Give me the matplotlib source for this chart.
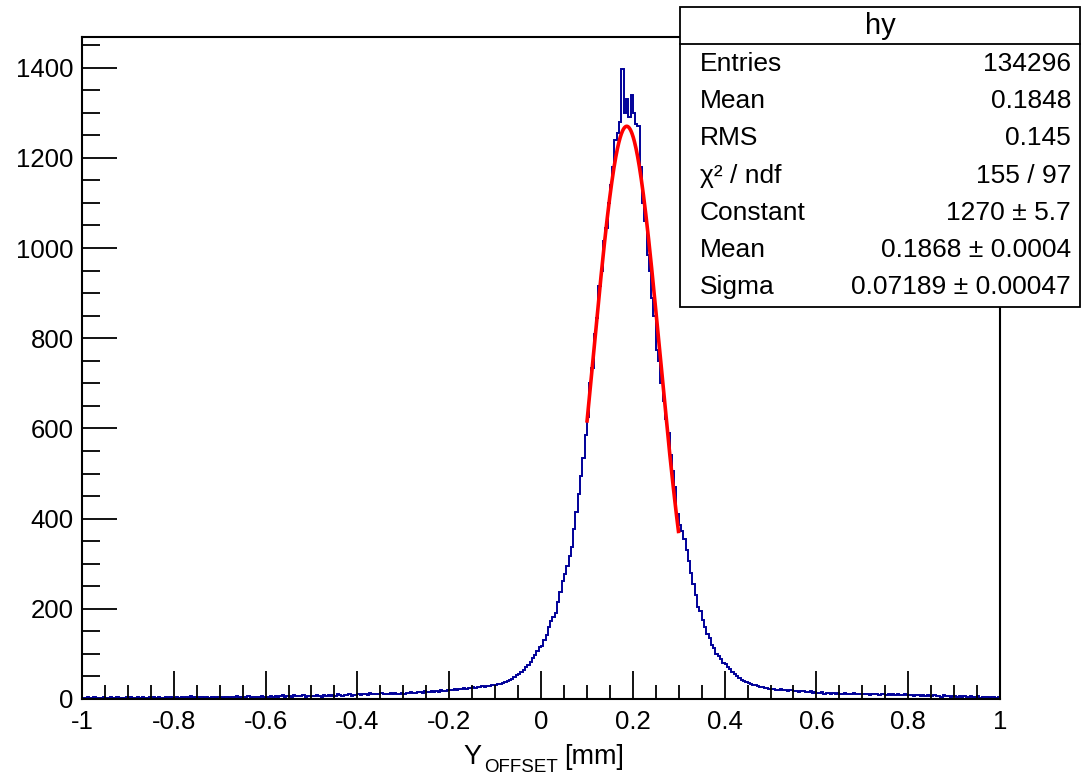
import numpy as np
import matplotlib
matplotlib.use("Agg")
import matplotlib.pyplot as plt

plt.rcParams['font.family'] = ['Liberation Sans', 'DejaVu Sans']

# ---- data (bin contents, bins of 0.005 from -1 to 1) ----
x_range = (-1.0, 1.0)
counts = [
    # -1.0 .. -0.9
    3, 2, 4, 3, 2, 5, 3, 2, 3, 4, 2, 3, 5, 3, 2, 4, 3, 3, 2, 4,
    # -0.9 .. -0.8
    3, 4, 2, 3, 5, 3, 4, 2, 3, 4, 3, 5, 2, 4, 3, 3, 4, 2, 5, 3,
    # -0.8 .. -0.7
    3, 4, 3, 5, 2, 4, 3, 6, 3, 4, 3, 4, 5, 3, 4, 2, 4, 5, 3, 4,
    # -0.7 .. -0.6
    4, 3, 5, 4, 3, 5, 4, 6, 3, 5, 4, 4, 6, 3, 5, 4, 5, 4, 6, 5,
    # -0.6 .. -0.5
    5, 4, 6, 5, 7, 5, 6, 8, 5, 6, 7, 5, 8, 6, 7, 6, 8, 5, 7, 6,
    # -0.5 .. -0.4
    7, 6, 8, 7, 5, 8, 7, 9, 6, 8, 7, 10, 8, 7, 9, 8, 10, 7, 9, 8,
    # -0.4 .. -0.3
    10, 9, 11, 12, 9, 13, 10, 11, 12, 10, 13, 11, 12, 10, 14, 11, 13, 12, 11, 13,
    # -0.3 .. -0.2
    12, 14, 13, 15, 14, 13, 16, 15, 14, 17, 15, 16, 18, 15, 17, 16, 19, 17, 18, 20,
    # -0.2 .. -0.1
    19, 20, 22, 21, 23, 22, 24, 23, 25, 24, 26, 25, 27, 26, 28, 27, 29, 28, 30, 31,
    # -0.1 .. 0.0
    31, 33, 34, 36, 38, 40, 43, 45, 49, 53, 56, 60, 64, 70, 76, 82, 90, 98, 106, 115,
    # 0.0 .. 0.1
    118, 130, 142, 160, 172, 182, 190, 215, 238, 262, 278, 295, 318, 337, 378, 415, 455, 495, 535, 585,
    # 0.1 .. 0.2
    625, 700, 735, 810, 845, 915, 950, 1015, 1045, 1100, 1140, 1180, 1240, 1255, 1280, 1398, 1300, 1330, 1290, 1340,
    # 0.2 .. 0.3
    1300, 1275, 1270, 1180, 1100, 1060, 985, 950, 890, 850, 775, 750, 700, 660, 620, 590, 540, 505, 470, 410,
    # 0.3 .. 0.4
    385, 372, 355, 330, 305, 280, 255, 230, 205, 195, 175, 160, 145, 135, 120, 112, 100, 95, 88, 80,
    # 0.4 .. 0.5
    78, 72, 66, 60, 56, 52, 47, 43, 40, 37, 35, 33, 31, 30, 28, 27, 26, 25, 24, 23,
    # 0.5 .. 0.6
    23, 22, 21, 20, 22, 19, 21, 18, 20, 19, 17, 18, 16, 18, 17, 16, 15, 17, 14, 16,
    # 0.6 .. 0.7
    14, 13, 15, 12, 13, 14, 11, 13, 12, 14, 11, 12, 13, 10, 12, 11, 13, 10, 11, 12,
    # 0.7 .. 0.8
    11, 10, 12, 9, 11, 10, 12, 9, 10, 11, 9, 10, 8, 10, 9, 11, 8, 9, 10, 8,
    # 0.8 .. 0.9
    8, 9, 7, 8, 9, 6, 8, 7, 9, 6, 7, 8, 6, 7, 5, 8, 6, 7, 5, 6,
    # 0.9 .. 1.0
    6, 5, 7, 4, 6, 5, 4, 6, 5, 4, 6, 3, 5, 4, 5, 3, 4, 5, 3, 4,
]

# Gaussian fit parameters (from stats box)
fit_constant = 1270.0
fit_mean = 0.1868
fit_sigma = 0.07189
fit_range = (0.1, 0.3)

stats_title = "hy"
stats_labels = ["Entries", "Mean", "RMS", "χ² / ndf", "Constant", "Mean", "Sigma"]
stats_values = ["134296", "0.1848", "0.145", "155 / 97", "1270 ± 5.7",
                "0.1868 ± 0.0004", "0.07189 ± 0.00047"]

x_label_main = "Y"
x_label_sub = "OFFSET"
x_label_unit = "[mm]"
x_tick_labels = ['-1', '-0.8', '-0.6', '-0.4', '-0.2', '0', '0.2', '0.4', '0.6', '0.8', '1']
y_tick_values = [0, 200, 400, 600, 800, 1000, 1200, 1400]
y_max = 1468

# ---- figure ----
W, H = 1081, 778
fig = plt.figure(figsize=(W / 100, H / 100), dpi=100)
ax = fig.add_axes([82 / W, 1 - 699 / H, (1000 - 82) / W, (699 - 37) / H])

edges = np.linspace(x_range[0], x_range[1], len(counts) + 1)
ax.stairs(counts, edges, color='#000099', linewidth=1.4, baseline=None)

xf = np.linspace(fit_range[0], fit_range[1], 300)
yf = fit_constant * np.exp(-0.5 * ((xf - fit_mean) / fit_sigma) ** 2)
ax.plot(xf, yf, color='#ff0000', linewidth=2.6, solid_capstyle='butt')

ax.set_xlim(*x_range)
ax.set_ylim(0, y_max)

ax.set_xticks(np.linspace(x_range[0], x_range[1], len(x_tick_labels)))
ax.set_xticks(np.arange(-1.0, 1.0001, 0.05), minor=True)
ax.set_yticks(y_tick_values)
ax.set_yticks(np.arange(0, 1451, 50), minor=True)
ax.set_xticklabels(x_tick_labels)
ax.set_yticklabels([str(v) for v in y_tick_values])

ax.tick_params(axis='both', which='both', direction='in', width=1.3, colors='black',
               labelsize=18.5)
ax.tick_params(axis='x', which='major', length=20, pad=8)
ax.tick_params(axis='x', which='minor', length=10)
ax.tick_params(axis='y', which='major', length=25, pad=6)
ax.tick_params(axis='y', which='minor', length=13)
for s in ax.spines.values():
    s.set_linewidth(1.5)

# axis title: Y with subscript OFFSET, then [mm]
fig.text(463 / W, 1 - 764 / H, x_label_main, fontsize=19.5, ha='left', va='baseline')
fig.text(484 / W, 1 - 772 / H, x_label_sub, fontsize=13.5, ha='left', va='baseline')
fig.text(564 / W, 1 - 764 / H, x_label_unit, fontsize=19.5, ha='left', va='baseline')

# ---- stats box ----
bx0, by0, bx1, by1 = 680, 7, 1080, 307
box = plt.Rectangle((bx0 / W, 1 - by1 / H), (bx1 - bx0) / W, (by1 - by0) / H,
                    transform=fig.transFigure, facecolor='white', edgecolor='black',
                    linewidth=1.3, zorder=10)
fig.add_artist(box)
sep_y = 44
fig.add_artist(plt.Line2D([bx0 / W, bx1 / W], [1 - sep_y / H, 1 - sep_y / H],
                          transform=fig.transFigure, color='black', linewidth=1.3, zorder=11))
fig.text((bx0 + bx1) / 2 / W, 1 - 26 / H, stats_title, fontsize=21, ha='center', va='center', zorder=12)
row_y0, row_dy = 64, 37.2
for i, (lab, val) in enumerate(zip(stats_labels, stats_values)):
    yy = 1 - (row_y0 + i * row_dy) / H
    fig.text(700 / W, yy, lab, fontsize=19, ha='left', va='center', zorder=12)
    fig.text(1071 / W, yy, val, fontsize=19, ha='right', va='center', zorder=12)

fig.savefig('out.png', dpi=100, facecolor='white')
